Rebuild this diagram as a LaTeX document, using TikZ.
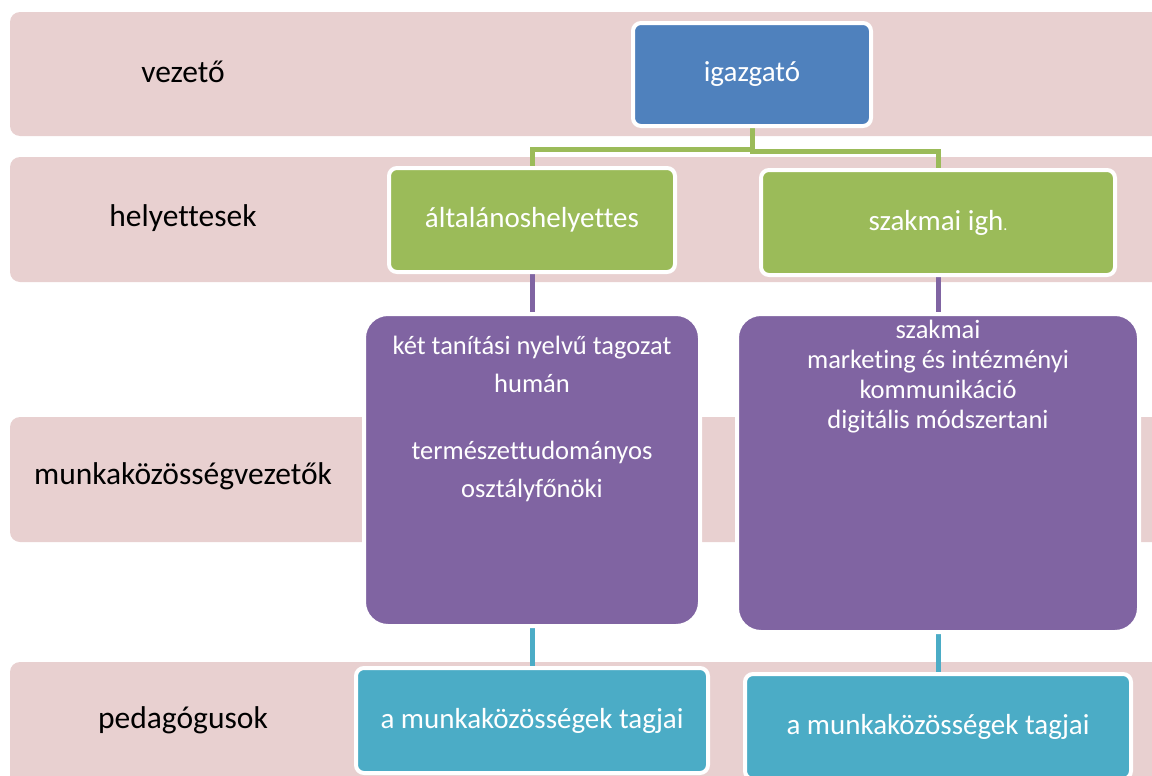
\documentclass[tikz,border=0pt]{standalone}
\usepackage{fontspec}
\setmainfont[Ligatures=NoCommon]{Carlito}
\usepackage{xcolor}
\usetikzlibrary{backgrounds,positioning}

\definecolor{bandpink}{RGB}{232,208,208}
\definecolor{bossblue}{RGB}{79,129,189}
\definecolor{deputygreen}{RGB}{155,187,89}
\definecolor{headpurple}{RGB}{128,100,162}
\definecolor{staffteal}{RGB}{75,172,198}

\begin{document}
\begin{tikzpicture}[x=0.5pt,y=-0.5pt]
  \tikzstyle{level}=[font=\fontsize{15.75}{19}\selectfont]
  \tikzstyle{unit}=[draw=white,line width=2pt,rounded corners=4pt,text=white,font=\fontsize{14.5}{17}\selectfont]
  \tikzstyle{group}=[draw=white,line width=2pt,rounded corners=12pt,fill=headpurple]
  \tikzstyle{grouptext}=[text=white,align=center,inner sep=0pt]
  \tikzstyle{link}=[line width=2.5pt]
  \useasboundingbox (0,0) rectangle (1152,776);

  \node[level] (l0) at (183,72) {vezető};
  \node[level] (l1) at (183,218) {helyettesek};
  \node[level] (l2) at (183,476) {munkaközösségvezetők};
  \node[level] (l3) at (183,720) {pedagógusok};

  \node[unit,fill=bossblue,minimum width=119pt,minimum height=51.5pt] (0) at (752,74.5) {igazgató};
  \node[unit,fill=deputygreen,minimum width=143pt,minimum height=52pt] (1) at (532,220) {általánoshelyettes};
  \node[unit,fill=deputygreen,minimum width=177pt,minimum height=52.5pt] (2) at (938,222.5) {szakmai igh\fontsize{8}{8}\selectfont.};

  \node[group,minimum width=168pt,minimum height=156pt] (3) at (532,470) {};
  \node[group,minimum width=201pt,minimum height=159pt] (4) at (938,473) {};
  \node[grouptext,font=\fontsize{13.25}{19}\selectfont,below=12pt of 3.north] (3t)
    {két tanítási nyelvű tagozat\\humán\\[14.5pt]természettudományos\\osztályfőnöki};
  \node[grouptext,font=\fontsize{13.25}{15}\selectfont,below=4pt of 4.north] (4t)
    {szakmai\\marketing és intézményi\\kommunikáció\\digitális módszertani};

  \node[unit,fill=staffteal,minimum width=176pt,minimum height=52.5pt] (5) at (532,720.5) {a munkaközösségek tagjai};
  \node[unit,fill=staffteal,minimum width=193pt,minimum height=52.5pt] (6) at (938,726.5) {a munkaközösségek tagjai};

  \begin{scope}[on background layer]
    % rows
    \fill[bandpink,rounded corners=5pt] (10,12) rectangle (1170,136);
    \fill[bandpink,rounded corners=5pt] (10,157) rectangle (1170,282);
    \fill[bandpink,rounded corners=5pt] (10,417) rectangle (1170,542);
    \fill[bandpink,rounded corners=5pt] (10,662) rectangle (1170,800);
    % links
    \draw[link,deputygreen] (0.south) -- ++(0,21) -| (1.north);
    \draw[link,deputygreen] (0.south) -- ++(0,23) -| (2.north);
    \path[link]
    (1) edge[headpurple] (3)
    (2) edge[headpurple] (4)
    (3) edge[staffteal] (5)
    (4) edge[staffteal] (6)
    ;
  \end{scope}
\end{tikzpicture}
\end{document}
